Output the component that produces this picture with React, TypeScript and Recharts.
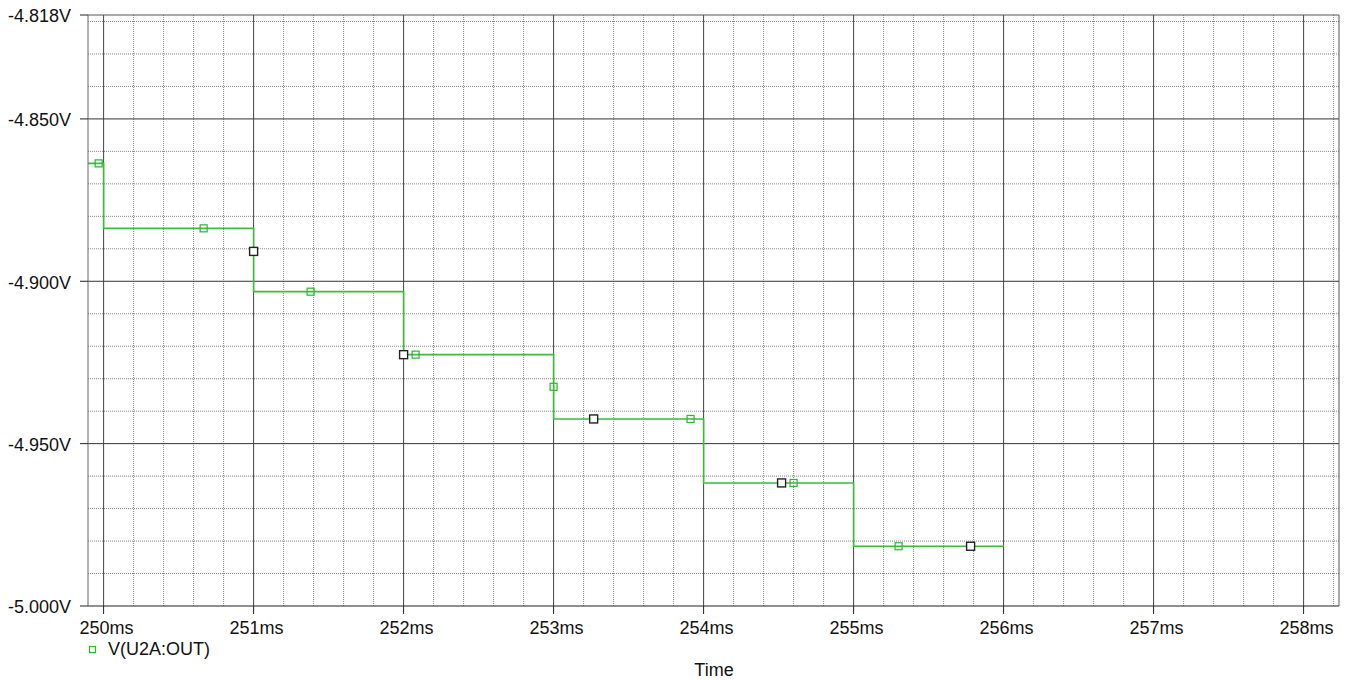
import React from 'react';
import { ComposedChart, Line, Scatter, XAxis, YAxis, ReferenceLine } from 'recharts';

// step trace: each point is the start of a level (stepAfter)
const stepTimes = [249.896, 250, 251, 252, 253, 254, 255, 256];
const stepVolts = [-4.8637, -4.8837, -4.9032, -4.9226, -4.9424, -4.9621, -4.9816, -4.9816];

// green trace markers
const greenTimes = [249.967, 250.667, 251.38, 252.08, 253.0, 253.913, 254.6, 255.3];
const greenVolts = [-4.8637, -4.8837, -4.9032, -4.9226, -4.9325, -4.9424, -4.9621, -4.9816];

// black cursor markers
const blackTimes = [251.0, 252.0, 253.267, 254.52, 255.78];
const blackVolts = [-4.8908, -4.9226, -4.9424, -4.9621, -4.9816];

const xTicks = [250, 251, 252, 253, 254, 255, 256, 257, 258];
const yTicks = [-5.0, -4.95, -4.9, -4.85, -4.818];

const X_MIN = 249.896;
const X_MAX = 258.236;
const Y_MIN = -5.0;
const Y_MAX = -4.818;

const FONT = '"Liberation Sans", Arial, sans-serif';
const GREEN = '#3dbb3d';

const stepData = stepTimes.map((t, i) => ({ t, v: stepVolts[i] }));
const greenData = greenTimes.map((t, i) => ({ t, v: greenVolts[i] }));
const blackData = blackTimes.map((t, i) => ({ t, v: blackVolts[i] }));

// grid values
const majorX = xTicks;
const minorX: number[] = [];
for (let i = 0; i <= 41; i++) {
  const v = +(250 + i * 0.2).toFixed(1);
  if (v < X_MAX && Math.abs(v - Math.round(v)) > 0.01) minorX.push(v);
}
const majorY = [-4.95, -4.9, -4.85];
const minorY: number[] = [];
for (let i = 1; i < 19; i++) {
  const v = +(-5 + i * 0.01).toFixed(2);
  if (!majorY.some(m => Math.abs(m - v) < 0.001)) minorY.push(v);
}

const greenSquare = (props: any) => (
  <rect x={props.cx - 3.5} y={props.cy - 3.5} width={7} height={7} fill="none" stroke="#2fb52f" strokeWidth={1.2} />
);
const blackSquare = (props: any) => (
  <rect x={props.cx - 4} y={props.cy - 4} width={8} height={8} fill="#fff" stroke="#222" strokeWidth={1.4} />
);

export default function App() {
  return (
    <div style={{ position: 'absolute', left: 0, top: 0, width: 1350, height: 681, background: '#fff' }}>
      <ComposedChart width={1350} height={681} margin={{ top: 15, right: 11, bottom: 45, left: 0 }}>
        <XAxis
          dataKey="t"
          type="number"
          domain={[X_MIN, X_MAX]}
          ticks={xTicks}
          tickFormatter={(v: number) => `${v}ms`}
          allowDataOverflow
          height={30}
          tickSize={8}
          tickLine={{ stroke: '#222' }}
          axisLine={{ stroke: '#222' }}
          tick={{ fill: '#111', fontSize: 18, fontFamily: FONT, dy: 5, dx: 3 }}
        />
        <YAxis
          type="number"
          domain={[Y_MIN, Y_MAX]}
          ticks={yTicks}
          tickFormatter={(v: number) => `${v.toFixed(3)}V`}
          allowDataOverflow
          width={88}
          tickSize={8}
          tickLine={{ stroke: '#222' }}
          axisLine={{ stroke: '#666' }}
          tick={{ fill: '#111', fontSize: 18, fontFamily: FONT, dx: -7, dy: 1 }}
        />
        {minorY.map(v => (
          <ReferenceLine key={'my' + v} y={v} stroke="#888" strokeDasharray="1 1" />
        ))}
        {minorX.map(v => (
          <ReferenceLine key={'mx' + v} x={v} stroke="#888" strokeDasharray="1 1" />
        ))}
        {majorY.map(v => (
          <ReferenceLine key={'My' + v} y={v} stroke="#333" />
        ))}
        {majorX.map(v => (
          <ReferenceLine key={'Mx' + v} x={v} stroke="#444" />
        ))}
        <ReferenceLine y={Y_MAX} stroke="#555" />
        <ReferenceLine x={X_MAX} stroke="#555" />
        <Line
          data={stepData}
          dataKey="v"
          type="stepAfter"
          stroke={GREEN}
          strokeWidth={1.6}
          dot={false}
          isAnimationActive={false}
        />
        <Scatter data={greenData} dataKey="v" shape={greenSquare} isAnimationActive={false} />
        <Scatter data={blackData} dataKey="v" shape={blackSquare} isAnimationActive={false} />
      </ComposedChart>
      <div
        style={{
          position: 'absolute',
          left: 88,
          top: 639,
          display: 'flex',
          alignItems: 'center',
          fontFamily: FONT,
          fontSize: 18,
          color: '#111',
        }}
      >
        <svg width={10} height={10} style={{ marginRight: 10 }}>
          <rect x={1.5} y={1.5} width={6} height={6} fill="none" stroke="#2fb52f" strokeWidth={1.2} />
        </svg>
        <span>V(U2A:OUT)</span>
      </div>
      <div
        style={{
          position: 'absolute',
          left: 0,
          width: 1350,
          top: 660,
          textAlign: 'center',
          paddingLeft: 78,
          boxSizing: 'border-box',
          fontFamily: FONT,
          fontSize: 18,
          color: '#111',
        }}
      >
        Time
      </div>
    </div>
  );
}
